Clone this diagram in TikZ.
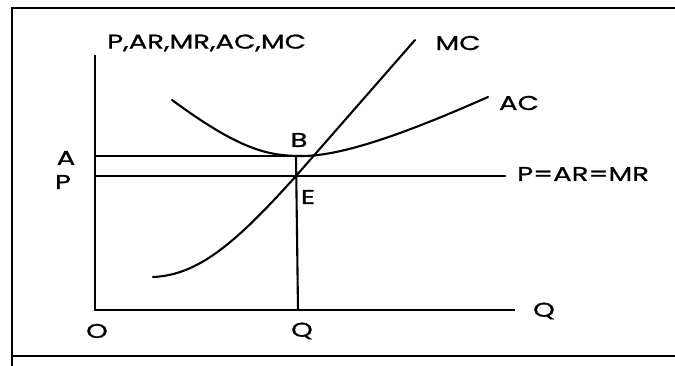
\documentclass[tikz,border=0pt]{standalone}
\usepackage{fontspec}
\setmainfont{Poppins}[FakeStretch=1.38, FakeBold=1]
\usetikzlibrary{positioning}

\begin{document}
\begin{tikzpicture}[x=1pt, y=-1pt,
    curva/.style={line width=2.1pt, line cap=round},
    eixo/.style={line width=2.3pt},
    rotulo/.style={font=\fontsize{20}{22}\selectfont, inner sep=0pt}]

    % Moldura
    \useasboundingbox (0,0) rectangle (675,366);
    \draw[line width=2.4pt] (12,367) -- (12,8) -- (676,8);
    \draw[line width=2.4pt] (12,356) -- (676,356);

    % Pontos principais
    \coordinate (origem) at (95,310);
    \coordinate (topoY) at (95,55);
    \coordinate (fimX) at (515,310);
    \coordinate (ptA) at (95,156);
    \coordinate (ptP) at (95,176);
    \coordinate (ptB) at (296,156);
    \coordinate (ptE) at (296,176);
    \coordinate (ptQ) at (298,310);
    \coordinate (fimP) at (505,176);

    % Eixos
    \draw[eixo] (topoY) -- (origem) -- (fimX);

    % Linhas de preco e custo medio
    \draw[curva] (ptA) -- (ptB) -- (ptE);
    \draw[curva] (ptP) -- (fimP);
    \draw[curva] (ptB) -- (ptQ);

    % Curva MC
    \draw[curva] (153,277) .. controls (198,275) and (235,244) .. (ptE)
        -- (415,40);

    % Curva AC
    \draw[curva] (172,100) .. controls (240,150) and (268,156) .. (302,156)
        .. controls (340,156) and (400,136) .. (488,97);

    % Rotulos
    \node[rotulo, anchor=west] (tituloY) at (107,43) {P,AR,MR,AC,MC};
    \node[rotulo] (lblMC) at (458,43) {MC};
    \node[rotulo] (lblAC) at (519,103) {AC};
    \node[rotulo, anchor=west] (lblPAR) at (517,174) {P=AR=MR};
    \node[rotulo] (lblA) at (66,158) {A};
    \node[rotulo] (lblP) at (63,182) {P};
    \node[rotulo] (lblB) at (299,140) {B};
    \node[rotulo] (lblE) at (308,197) {E};
    \node[rotulo] (lblO) at (97,331) {O};
    \node[rotulo] (lblQ) at (302,331) {Q};
    \node[rotulo] (lblQeixo) at (544,311) {Q};

\end{tikzpicture}
\end{document}
